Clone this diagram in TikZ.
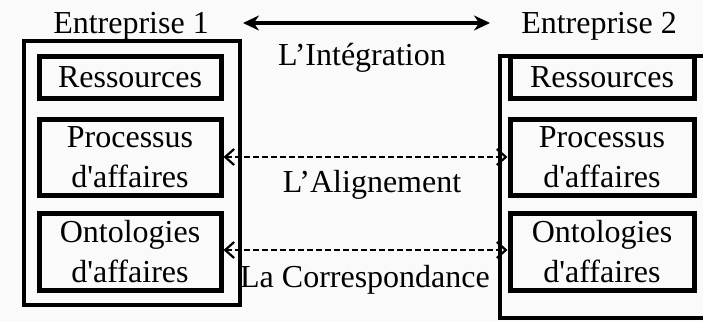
\documentclass[tikz,border=0pt]{standalone}
\usepackage{fontspec}
\setmainfont{Liberation Serif}
\usepackage{tikz}
\usetikzlibrary{arrows.meta}
\definecolor{paper}{RGB}{250,250,250}

\begin{document}
\begin{tikzpicture}[x=0.5pt,y=-0.5pt, inner sep=0pt, >={Stealth[length=8pt,width=7.5pt]},
  font=\fontsize{16}{20}\selectfont,
  outer/.style={draw, line width=2.1pt, minimum width=108pt, minimum height=132pt},
  layer/.style={draw, line width=2.5pt, minimum width=91pt, align=center},
  link/.style={{Straight Barb[length=4.5pt,width=8pt]}-{Straight Barb[length=4.5pt,width=8pt]}, dash pattern=on 3pt off 1.5pt, line width=1.1pt}]
\useasboundingbox[fill=paper] (0,0) rectangle (703,322);
\clip (0,0) rectangle (703,322);
% enterprise frames
\node (e1) at (132,173) [outer] {};
\node (e2) at (610,187) [outer, minimum width=110pt, minimum height=131pt] {};
\node (t1) at (131,33) [anchor=base] {Entreprise 1};
\node (t2) at (599,33) [anchor=base] {Entreprise 2};
% layers of enterprise 1
\node (r1) at (130,77) [layer, minimum height=21pt] {Ressources};
\node (p1) at (130,157) [layer, minimum height=38pt] {Processus\\d\textquotesingle affaires};
\node (o1) at (130,251.5) [layer, minimum height=38.5pt] {Ontologies\\d\textquotesingle affaires};
% layers of enterprise 2
\node (r2) at (602,77) [layer, minimum width=92pt, minimum height=21pt] {Ressources};
\node (p2) at (602,157) [layer, minimum width=92pt, minimum height=38pt] {Processus\\d\textquotesingle affaires};
\node (o2) at (602,251.5) [layer, minimum width=92pt, minimum height=38.5pt] {Ontologies\\d\textquotesingle affaires};
% relations
\coordinate (il) at (243,23);
\coordinate (ir) at (490,23);
\draw[<->, line width=1.7pt] (il) -- (ir);
\node (li) at (362,65) [anchor=base] {L’Intégration};
\draw[link] (p1.east) -- (p2.west);
\node (la) at (372,192) [anchor=base] {L’Alignement};
\draw[link] (o1.east |- 0,250) -- (o2.west |- 0,250);
\node (lc) at (365,287) [anchor=base] {La Correspondance};
\end{tikzpicture}
\end{document}
